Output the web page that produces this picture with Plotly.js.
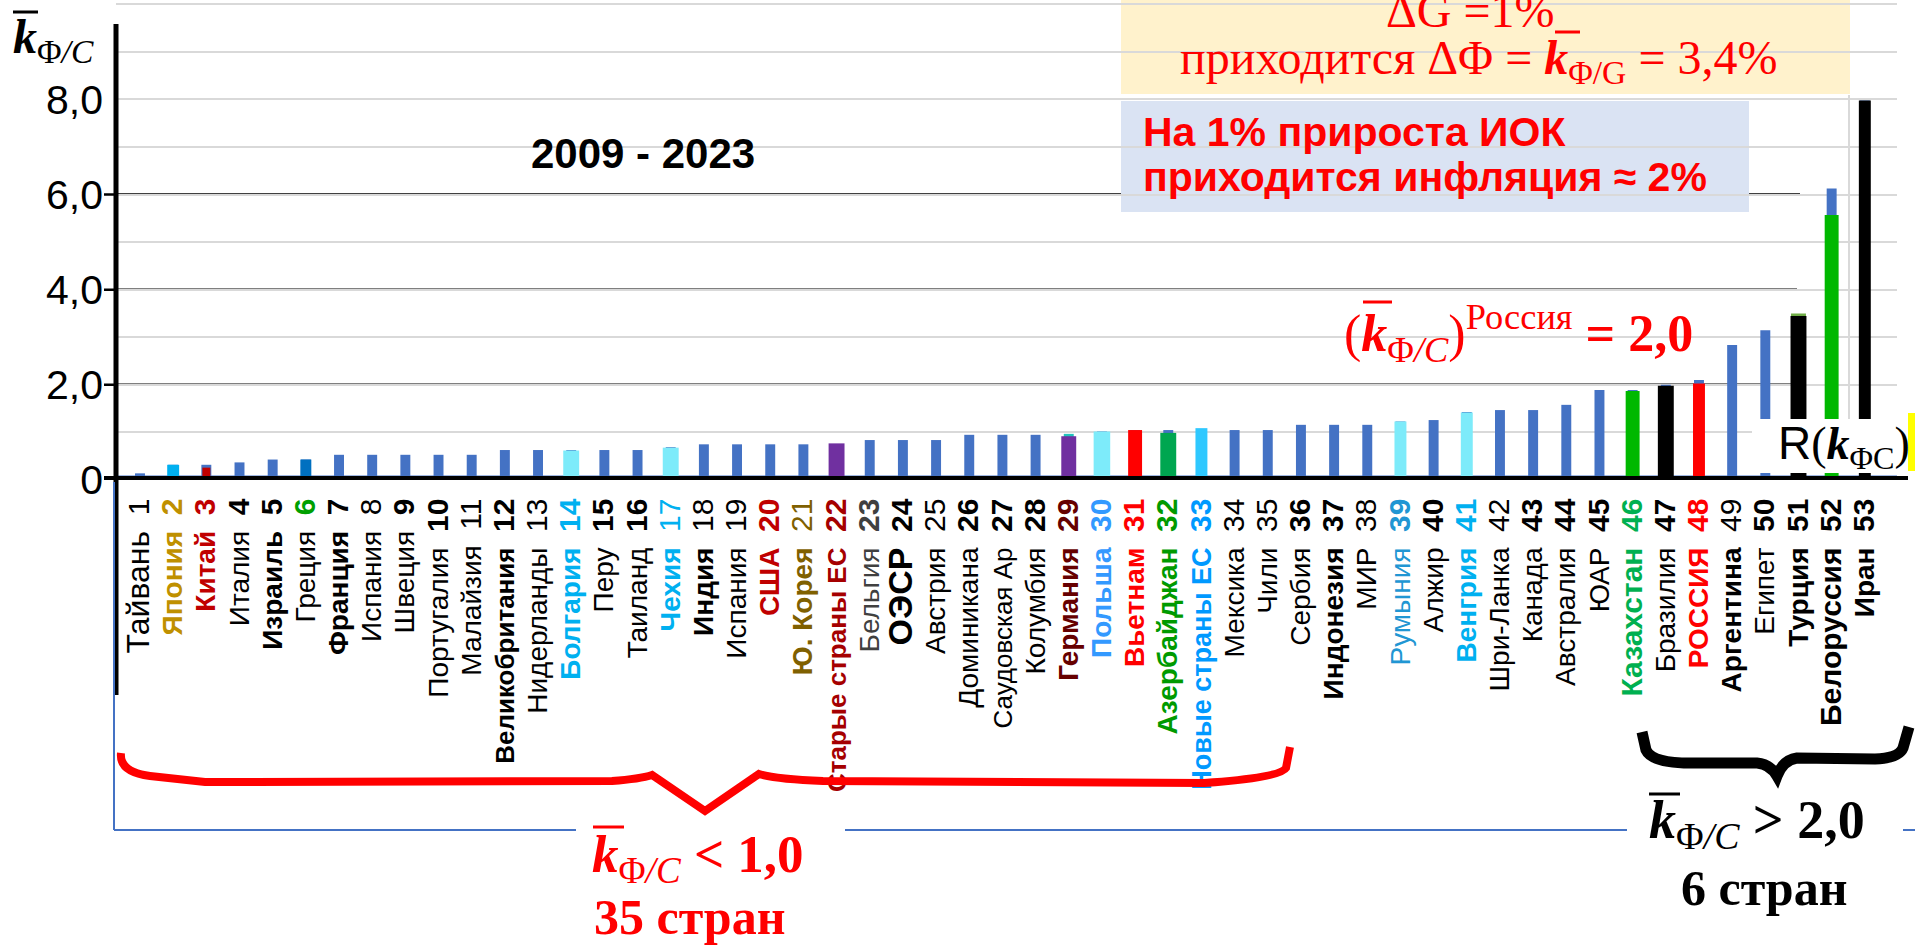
<!DOCTYPE html>
<html><head><meta charset="utf-8">
<script src="https://cdn.plot.ly/plotly-3.0.1.min.js"></script>
<style>html,body{margin:0;padding:0;background:#fff}#chart{width:1915px;height:947px}</style>
</head><body><div id="chart"></div>
<script>
// ---------------- data ----------------
const countries = ['Тайвань','Япония','Китай','Италия','Израиль','Греция','Франция','Испания','Швеция','Португалия',
 'Малайзия','Великобритания','Нидерланды','Болгария','Перу','Таиланд','Чехия','Индия','Испания','США',
 'Ю. Корея','Старые страны ЕС','Бельгия','ОЭСР','Австрия','Доминикана','Саудовская Ар','Колумбия','Германия','Польша',
 'Вьетнам','Азербайджан','Новые страны ЕС','Мексика','Чили','Сербия','Индонезия','МИР','Румыния','Алжир',
 'Венгрия','Шри-Ланка','Канада','Австралия','ЮАР','Казахстан','Бразилия','РОССИЯ','Аргентина','Египет',
 'Турция','Белоруссия','Иран'];
const ranks = [1,2,3,4,5,6,7,8,9,10,11,12,13,14,15,16,17,18,19,20,21,22,23,24,25,26,27,28,29,30,
 31,32,33,34,35,36,37,38,39,40,41,42,43,44,45,46,47,48,49,50,51,52,53];
// k Ф/С, 2009-2023 (blue base series)
const kBase = [0.14,0.32,0.32,0.37,0.43,0.43,0.53,0.53,0.53,0.53,
 0.53,0.63,0.63,0.63,0.63,0.63,0.69,0.75,0.75,0.75,
 0.75,0.75,0.84,0.84,0.84,0.95,0.95,0.95,0.97,1.02,
 1.05,1.05,1.05,1.05,1.05,1.16,1.16,1.16,1.23,1.26,
 1.43,1.47,1.47,1.58,1.89,1.89,2.00,2.10,2.84,3.15,
 3.50,6.13,7.98];
// highlighted countries (overlay series)
const kHigh = [null,0.32,0.26,null,null,0.43,null,null,null,null,
 null,null,null,0.62,null,null,0.68,null,null,null,
 null,0.77,null,null,null,null,null,null,0.92,1.02,
 1.05,0.99,1.09,null,null,null,null,null,1.23,null,
 1.42,null,null,null,null,1.87,1.98,2.03,null,null,
 3.45,5.57,7.98];
const B0='#4472C4', N='rgba(0,0,0,0)', K='#000000', CY='#7DEBFA';
const baseColors = [B0,B0,B0,B0,B0,B0,B0,B0,B0,B0, B0,B0,B0,B0,B0,B0,B0,B0,B0,B0,
 B0,B0,B0,B0,B0,B0,B0,B0,'#22C4BC',B0, B0,B0,B0,B0,B0,B0,B0,B0,B0,B0,
 B0,B0,B0,B0,B0,B0,B0,B0,B0,B0, '#70AD47',B0,B0];
const baseWidths = [0.3,0.3,0.3,0.3,0.3,0.3,0.3,0.3,0.3,0.3, 0.3,0.3,0.3,0.3,0.3,0.3,0.3,0.3,0.3,0.3,
 0.3,0.3,0.3,0.3,0.3,0.3,0.3,0.3,0.3,0.3, 0.3,0.3,0.3,0.3,0.3,0.3,0.3,0.3,0.3,0.3,
 0.3,0.3,0.3,0.3,0.3,0.3,0.3,0.3,0.3,0.3, 0.45,0.3,0.3];
const highColors = [N,'#00B0F0','#C00000',N,N,'#0070C0',N,N,N,N, N,N,N,CY,N,N,CY,N,N,N,
 N,'#7030A0',N,N,N,N,N,N,'#7030A0',CY, '#FF0000','#00A650','#2EC8FF',N,N,N,N,N,CY,N,
 CY,N,N,N,N,'#00B800',K,'#FF0000',N,N, K,'#00B800',K];
const highWidths = [0.4,0.36,0.24,0.4,0.4,0.33,0.4,0.4,0.4,0.4, 0.4,0.4,0.4,0.48,0.4,0.4,0.48,0.4,0.4,0.4,
 0.4,0.48,0.4,0.4,0.4,0.4,0.4,0.4,0.45,0.5, 0.42,0.48,0.36,0.4,0.4,0.4,0.4,0.4,0.36,0.4,
 0.36,0.4,0.4,0.4,0.4,0.42,0.48,0.36,0.4,0.4, 0.48,0.42,0.36];
// tick label styles
const nameColor = [K,'#BF9000','#C00000',K,K,K,K,K,K,K, K,K,K,'#00B0F0',K,K,'#00B0F0',K,K,'#C00000',
 '#7F6000','#A50000','#404040',K,K,K,K,K,'#660000','#3399FF', '#FF0000','#009A00','#0099FF',K,K,K,K,K,'#2196D3',K,
 '#00B0F0',K,K,K,K,'#00B050',K,'#FF0000',K,K, K,K,K];
const numColor = [K,'#BF9000','#C00000',K,K,'#00A000',K,K,K,K, K,K,K,'#00B0F0',K,K,'#00B0F0',K,K,'#C00000',
 '#7F6000','#A50000','#404040',K,K,K,K,K,'#660000','#3399FF', '#FF0000','#009A00','#0099FF',K,K,K,K,K,'#2196D3',K,
 '#00B0F0',K,K,K,K,'#00B050',K,'#FF0000',K,K, K,K,K];
const nameBold = [0,1,1,0,1,0,1,0,0,0, 0,1,0,1,0,0,1,1,0,1, 1,1,0,1,0,0,0,0,1,1, 1,1,1,0,0,0,1,0,0,0, 1,0,0,0,0,1,0,1,1,0, 1,1,1];
const numBold  = [0,1,1,1,1,1,1,0,1,1, 0,1,0,1,1,1,0,0,0,1, 0,1,1,1,0,1,1,1,1,1, 1,1,1,0,0,1,1,0,1,1, 1,0,1,1,1,1,1,1,0,1, 1,1,1];
const nameSize = [32,28,28,28,28,28,28,28,28,28, 28,26,28,28,28,28,28,28,28,28, 28,26,28,34,28,28,26,28,28,28,
 28,28,27,28,28,28,28,28,28,28, 28,28,28,28,28,30,28,28,28,28, 28,30,28];
const yTickVals = [0,1,2,3,4,5,6,7,8,9,10];
const yTickText = ['0','','2,0','','4,0','','6,0','','8,0','',''];

// ---------------- build ----------------
const wrap = (t,c,b,s) => '<span style="color:'+c+';font-size:'+s+'px">'+(b?'<b>'+t+'</b>':t)+'</span>';
const tickText = countries.map((n,i)=> wrap(n,nameColor[i],nameBold[i],nameSize[i]) + '\u00a0\u00a0' + wrap(String(ranks[i]),numColor[i],numBold[i],30));

const L=116, R=1897, T=0, Bt=480;
const px = x => (x-L)/(R-L);
const py = y => (Bt-y)/(Bt-T);
const rect = (x0,y0,x1,y1,fill,layer) => ({type:'rect',xref:'paper',yref:'paper',x0:px(x0),x1:px(x1),y0:py(y1),y1:py(y0),fillcolor:fill,line:{width:0},layer:layer||'below'});
const seg = (x0,y0,x1,y1,color,w,layer) => ({type:'line',xref:'paper',yref:'paper',x0:px(x0),x1:px(x1),y0:py(y0),y1:py(y1),line:{color:color,width:w},layer:layer||'above'});
const level = (v,x0,x1,color,w,layer) => ({type:'line',xref:'paper',yref:'y',x0:px(x0),x1:px(x1),y0:v,y1:v,line:{color:color,width:w},layer:layer||'below'});
const path = (pts,color,w) => ({type:'path',xref:'paper',yref:'paper',path:pts.replace(/(-?\d+(\.\d+)?),(-?\d+(\.\d+)?)/g,(m,a,_,b)=>px(+a).toFixed(5)+','+py(+b).toFixed(5)),line:{color:color,width:w},fillcolor:'rgba(0,0,0,0)',layer:'above'});

const shapes = [
  level(2,104,1803,K,2.5), level(4,104,1797,K,2.5), level(6,104,1800,K,2.5),
  rect(1121,-5,1850,94,'#FFF2CC'),
  rect(1121,101,1749,212,'#DAE3F3'),
  seg(1849,95,1849,420,'#D9D9D9',2,'below'),
  seg(116,476.5,1897,476.5,B0,2,'below'),
  rect(1752,419,1908,473,'#FFFFFF','above'),
  rect(1908,413,1915,471,'#FFFF00','above'),
  level(0,104,1908,K,8,'above'),
  seg(116,24,116,695,K,5),
  seg(114,482,114,830,B0,2), seg(114,830,576,830,B0,2), seg(845,830,1627,830,B0,2), seg(1903,830,1915,830,B0,2),
  path('M 121,753 Q 119,772 150,776 L 205,782 L 612,781 Q 640,779 652,775 L 705,811 L 759,774 Q 775,779 823,781 L 1204,783 Q 1280,778 1286,768 L 1290,747','#FF0000',8),
  path('M 1642,732 L 1646,750 Q 1652,763 1690,763 L 1757,763 Q 1770,764 1777,776 Q 1783,760 1797,758 L 1875,759 Q 1899,758 1903,748 L 1909,727',K,11),
  seg(13,12,38,12,K,3), seg(1555,32,1580,32,'#FF0000',3), seg(1363,302,1392,302,'#FF0000',3),
  seg(593,827,624,827,'#FF0000',3), seg(1649,794,1680,794,K,3)
];

const SERIF='Liberation Serif', SANS='Liberation Sans';
const ann = (x,y,text,size,color,family,xa) => ({xref:'paper',yref:'paper',x:px(x),y:py(y),text:text,showarrow:false,xanchor:xa||'left',yanchor:'middle',font:{size:size,color:color,family:family}});
const annotations = [
  ann(11,40,'<b><i>k</i></b><sub>Φ<i>/C</i></sub>',48,K,SERIF),
  ann(643,153,'<b>2009 - 2023</b>',42,K,SANS,'center'),
  ann(1470,10,'ΔG =1%',48,'#FF0000',SERIF,'center'),
  ann(1178,61,'приходится ΔΦ = <b><i>k</i></b><sub>Φ/G</sub> = 3,4%',48,'#FF0000',SERIF),
  ann(1141,132,'<b>На 1% прироста ИОК</b>',41,'#FF0000',SANS),
  ann(1141,177,'<b>приходится инфляция ≈ 2%</b>',41,'#FF0000',SANS),
  ann(1342,333,'(<b><i>k</i></b><sub>Φ<i>/C</i></sub>)<sup>Россия</sup> <b>= 2,0</b>',52,'#FF0000',SERIF),
  ann(1776,446,'<span style="font-family:Liberation Sans">R</span>(<b><i>k</i></b><sub>ΦC</sub>)',46,K,SERIF),
  ann(590,858,'<b><i>k</i></b><sub>Φ<i>/C</i></sub><b> &lt; 1,0</b>',53,'#FF0000',SERIF),
  ann(592,917,'<b>35 стран</b>',50,'#FF0000',SERIF),
  ann(1647,823,'<b><i>k</i></b><sub>Φ<i>/C</i></sub><b> &gt; 2,0</b>',54,K,SERIF),
  ann(1764,888,'<b>6 стран</b>',50,K,SERIF,'center')
];

const traces = [
  {type:'bar',x:ranks,y:kBase,width:baseWidths,marker:{color:baseColors,line:{width:0}},hoverinfo:'skip'},
  {type:'bar',x:ranks,y:kHigh,width:highWidths,marker:{color:highColors,line:{width:0}},hoverinfo:'skip'}
];
const layout = {
  width:1915,height:947,margin:{l:L,r:1915-R,t:T,b:947-Bt,pad:0},
  paper_bgcolor:'#fff',plot_bgcolor:'#fff',showlegend:false,barmode:'overlay',hovermode:false,
  xaxis:{range:[0.2765,53.97],tickmode:'array',tickvals:ranks,ticktext:tickText,tickangle:-90,
    tickfont:{family:SANS,size:28,color:K},showgrid:false,zeroline:false,showline:false,ticks:'',ticklabelstandoff:12,fixedrange:true},
  yaxis:{range:[0,10.09],tickmode:'array',tickvals:yTickVals,ticktext:yTickText,showgrid:true,gridcolor:'#D9D9D9',gridwidth:2,
    zeroline:false,showline:false,ticks:'',tickfont:{family:SANS,size:41,color:K},ticklabelstandoff:12,fixedrange:true},
  shapes:shapes, annotations:annotations
};
Plotly.newPlot('chart',traces,layout,{displayModeBar:false,staticPlot:true});
</script></body></html>
